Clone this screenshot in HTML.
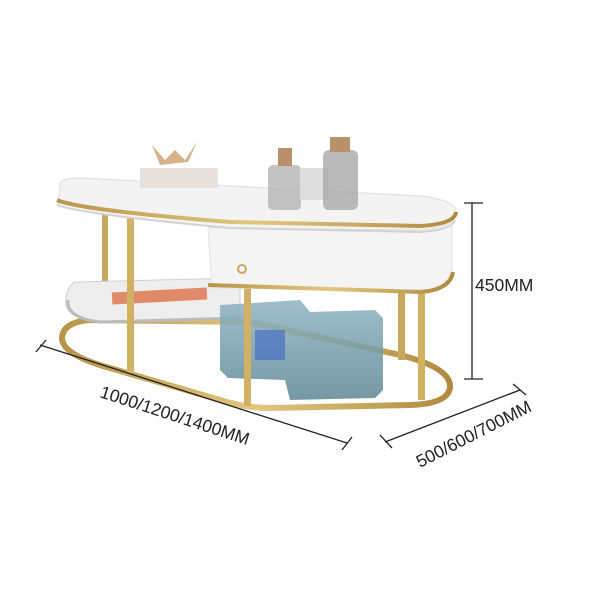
<!DOCTYPE html>
<html><head><style>
html,body{margin:0;padding:0;background:#fff;}
svg{display:block;}
text{font-family:"Liberation Sans",sans-serif;fill:#222;}
</style></head><body>
<svg width="600" height="600" viewBox="0 0 600 600" xmlns="http://www.w3.org/2000/svg">
<defs>
<linearGradient id="gold" x1="0" y1="0" x2="1" y2="0">
<stop offset="0" stop-color="#b8954a"/><stop offset="0.5" stop-color="#e2c77f"/><stop offset="1" stop-color="#b08a3e"/>
</linearGradient>
<linearGradient id="glass" x1="0" y1="0" x2="0" y2="1">
<stop offset="0" stop-color="#8fb3bf"/><stop offset="1" stop-color="#5d8694"/>
</linearGradient>
</defs>
<!-- base ring -->
<path d="M90,320 L250,322 L400,355 Q452,368 450,388 Q447,404 410,405 L270,408 Q245,408 220,400 L110,368 Q62,355 62,338 Q63,322 90,320Z" fill="none" stroke="url(#gold)" stroke-width="6"/>
<!-- back legs -->
<rect x="102" y="205" width="6" height="115" fill="#c9a85c"/>
<rect x="398" y="285" width="7" height="75" fill="#c9a85c"/>
<!-- lower shelf -->
<path d="M75,282 L240,278 L240,318 L100,322 Q62,318 66,298 Q68,285 75,282Z" fill="#eeeeee" stroke="#cfcfcf"/>
<path d="M68,300 Q66,318 100,322 L240,318" fill="none" stroke="#bbb" stroke-width="3"/>
<rect x="112" y="290" width="95" height="12" fill="#e08a6a" transform="rotate(-3 160 296)"/>
<!-- glass -->
<path d="M220,305 L300,300 L310,312 L375,310 L383,318 L383,390 L375,398 L290,400 L285,380 L228,378 L220,370Z" fill="url(#glass)" opacity="0.85"/>
<rect x="255" y="330" width="30" height="30" fill="#4a6fc4" opacity="0.7"/>
<!-- front legs -->
<rect x="127" y="213" width="7" height="160" fill="#d2b064"/>
<rect x="244" y="288" width="7" height="118" fill="#d2b064"/>
<rect x="418" y="285" width="7" height="115" fill="#d2b064"/>
<!-- drawer -->
<path d="M208,228 L452,222 L452,272 Q450,290 420,290 L212,288 Z" fill="#f4f4f4" stroke="#e2e2e2"/>
<path d="M208,285 L420,292 Q450,290 453,272" fill="none" stroke="url(#gold)" stroke-width="4"/>
<circle cx="242" cy="269" r="4" fill="none" stroke="#c9a85c" stroke-width="2"/>
<!-- top slab -->
<path d="M60,185 Q60,178 80,178 L420,196 Q456,200 456,212 Q456,228 420,230 L230,228 Q80,215 58,205 Z" fill="#f3f3f3" stroke="#ddd"/>
<path d="M57,200 Q80,210 230,222 L420,226 Q455,224 456,212" fill="none" stroke="url(#gold)" stroke-width="4"/>
<path d="M57,205 Q80,214 230,228 L420,232 Q452,230 455,220" fill="none" stroke="#d2d2d2" stroke-width="2"/>
<!-- decor -->
<rect x="140" y="168" width="78" height="20" fill="#e6e1db"/>
<path d="M152,145 L165,160 L175,150 L185,160 L197,142 L188,162 L160,165Z" fill="#d7b389"/>
<rect x="268" y="165" width="33" height="45" rx="5" fill="#b4b4b4" opacity="0.8"/>
<rect x="278" y="148" width="14" height="18" fill="#b8906a"/>
<rect x="300" y="168" width="28" height="32" fill="#ddd"/>
<rect x="323" y="150" width="35" height="60" rx="6" fill="#a9a9a9" opacity="0.8"/>
<rect x="330" y="137" width="20" height="15" fill="#b8906a"/>
<!-- dimensions -->
<g stroke="#222" stroke-width="1.3">
<line x1="472" y1="203" x2="472" y2="379"/>
<line x1="464" y1="203" x2="483" y2="203"/>
<line x1="464" y1="379" x2="483" y2="379"/>
<line x1="40" y1="345" x2="347" y2="443"/>
<line x1="36" y1="352" x2="46" y2="340"/>
<line x1="342" y1="450" x2="352" y2="437"/>
<line x1="385" y1="442" x2="520" y2="390"/>
<line x1="380" y1="435" x2="392" y2="448"/>
<line x1="513" y1="384" x2="526" y2="395"/>
</g>
<text x="475" y="291" font-size="17.5">450MM</text>
<text x="0" y="0" font-size="17.5" transform="translate(99,397) rotate(18)">1000/1200/1400MM</text>
<text x="0" y="0" font-size="17.5" transform="translate(420,468) rotate(-27)">500/600/700MM</text>
</svg>
</body></html>
